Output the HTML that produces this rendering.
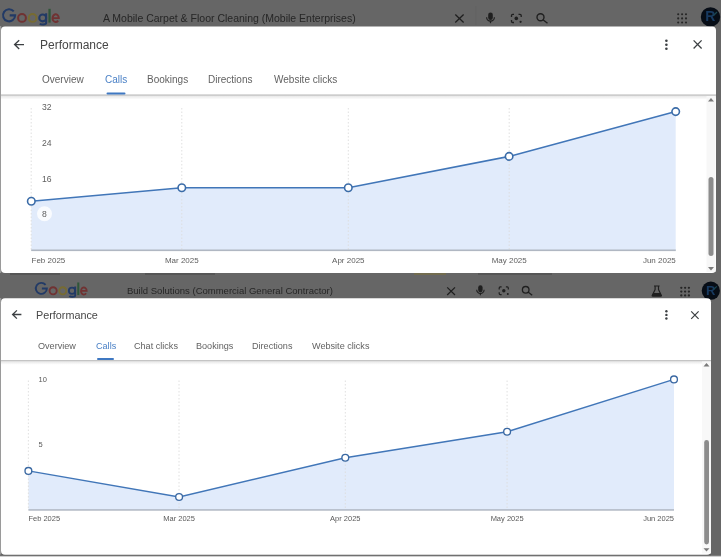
<!DOCTYPE html>
<html><head><meta charset="utf-8">
<style>
html,body{margin:0;padding:0;}
body{width:721px;height:557px;position:relative;overflow:hidden;background:#666666;font-family:"Liberation Sans",sans-serif;}
.abs{position:absolute;}
.t{position:absolute;white-space:nowrap;line-height:1;z-index:2;will-change:transform;}
.dlg{position:absolute;background:#fff;border-radius:4px;overflow:hidden;}
svg{position:absolute;left:0;top:0;overflow:visible;z-index:1;will-change:transform;}
</style></head>
<body>
<!-- ===== Header bar 1 ===== -->
<div class="t" style="left:103px;top:12.8px;font-size:10.5px;color:#262626;">A Mobile Carpet &amp; Floor Cleaning (Mobile Enterprises)</div>

<!-- ===== Dialog 1 ===== -->
<div class="t" style="left:40px;top:39.1px;font-size:12px;color:#474747;">Performance</div>
<div class="t" style="left:42px;top:74.7px;font-size:10px;color:#626262;">Overview</div>
<div class="t" style="left:105px;top:74.7px;font-size:10px;color:#4a80c6;">Calls</div>
<div class="t" style="left:147px;top:74.7px;font-size:10px;color:#626262;">Bookings</div>
<div class="t" style="left:208px;top:74.7px;font-size:10px;color:#626262;">Directions</div>
<div class="t" style="left:274px;top:74.7px;font-size:10px;color:#626262;">Website clicks</div>

<!-- ===== Header bar 2 ===== -->
<div class="t" style="left:127px;top:286px;font-size:9.5px;color:#262626;">Build Solutions (Commercial General Contractor)</div>

<!-- ===== Dialog 2 ===== -->
<div class="t" style="left:36px;top:309.6px;font-size:10.8px;color:#474747;">Performance</div>
<div class="t" style="left:38px;top:341.7px;font-size:9.1px;color:#626262;">Overview</div>
<div class="t" style="left:96px;top:341.7px;font-size:9.1px;color:#4a80c6;">Calls</div>
<div class="t" style="left:134px;top:341.7px;font-size:9.1px;color:#626262;">Chat clicks</div>
<div class="t" style="left:196px;top:341.7px;font-size:9.1px;color:#626262;">Bookings</div>
<div class="t" style="left:252px;top:341.7px;font-size:9.1px;color:#626262;">Directions</div>
<div class="t" style="left:312px;top:341.7px;font-size:9.1px;color:#626262;">Website clicks</div>

<svg width="721" height="557" viewBox="0 0 721 557">
  <!-- logos -->
  <defs>
    <g id="glogo" fill="none" stroke-width="2.05">
      <path d="M13.75,11.4 A6.05,6.05 0 1 0 15.15,15.35 H9.7" stroke="#223a66"/>
      <circle cx="22" cy="17.9" r="3.9" stroke="#703232"/>
      <circle cx="32.6" cy="17.9" r="3.9" stroke="#776b32"/>
      <circle cx="42.7" cy="17.9" r="3.45" stroke="#223a66"/>
      <path d="M46.15,13.3 V23.1 Q46.15,24.5 43,24.5 Q40.7,24.5 39.8,23.6" stroke="#223a66"/>
      <path d="M49.55,8.8 V22.6" stroke="#2f5639" stroke-width="2.25"/>
      <path d="M52.7,18.1 H58.8 A3.15,3.85 0 1 0 58.1,20.6" stroke="#703232" stroke-width="1.95"/>
    </g>
  </defs>
  <use href="#glogo"/>
  <use href="#glogo" transform="matrix(0.913,0,0,0.913,33.04,274.44)"/>
  <!-- header 1 icons -->
  <g stroke="#1f1f1f" stroke-width="1.3" fill="none" stroke-linecap="butt">
    <path d="M455.3,14.5 L463.6,22.5 M463.6,14.5 L455.3,22.5"/>
  </g>
  <rect x="475.5" y="6" width="0.8" height="19" fill="#616161"/>
  <g fill="#1f1f1f">
    <rect x="488.2" y="12.5" width="4.6" height="7.5" rx="2.3"/>
  </g>
  <path d="M486.6,17.2 A3.9,3.9 0 0 0 494.4,17.2" stroke="#1f1f1f" stroke-width="1.2" fill="none"/>
  <rect x="489.9" y="20.8" width="1.2" height="2.4" fill="#1f1f1f"/>
  <g stroke="#1f1f1f" stroke-width="1.3" fill="none">
    <path d="M511.5,17 V15.5 Q511.5,14.3 512.7,14.3 H514 M518.5,14.3 H520 Q521.2,14.3 521.2,15.5 V17 M511.5,20 V21.3 Q511.5,22.5 512.7,22.5 H514"/>
  </g>
  <circle cx="516.3" cy="18.4" r="1.8" fill="#1f1f1f"/>
  <circle cx="520.6" cy="21.8" r="1.1" fill="#1f1f1f"/>
  <g stroke="#1f1f1f" stroke-width="1.4" fill="none">
    <circle cx="540.5" cy="17.3" r="3.5"/>
    <path d="M543,19.8 L547.5,23.2"/>
  </g>
  <g fill="#262626">
    <circle cx="678.2" cy="14.3" r="1.05"/><circle cx="682.1" cy="14.3" r="1.05"/><circle cx="686" cy="14.3" r="1.05"/>
    <circle cx="678.2" cy="18.4" r="1.05"/><circle cx="682.1" cy="18.4" r="1.05"/><circle cx="686" cy="18.4" r="1.05"/>
    <circle cx="678.2" cy="22.5" r="1.05"/><circle cx="682.1" cy="22.5" r="1.05"/><circle cx="686" cy="22.5" r="1.05"/>
  </g>
  <circle cx="710.5" cy="16.9" r="9.7" fill="#070d16"/>
  <text x="705.3" y="21.3" font-family="Liberation Sans" font-size="14" font-weight="bold" fill="#183a60">R</text>
  <path d="M713.5,15.5 L717,12" stroke="#1a4650" stroke-width="1.2"/>

  <!-- dialog 1 -->
  <rect x="0" y="26" width="1.2" height="247" fill="#9a9a9a"/>
  <rect x="1" y="26.4" width="715" height="246.5" rx="4" fill="#fff"/>
  <!-- dialog 1 icons -->
  <path d="M24,44.6 H15.3 M19.2,40.2 L14.6,44.6 L19.2,49" stroke="#3c4043" stroke-width="1.35" fill="none"/>
  <g fill="#3c4043">
    <circle cx="666.4" cy="40.8" r="1.3"/><circle cx="666.4" cy="44.8" r="1.3"/><circle cx="666.4" cy="48.8" r="1.3"/>
  </g>
  <path d="M693.6,40.4 L701.6,48.5 M701.6,40.4 L693.6,48.5" stroke="#3c4043" stroke-width="1.3" fill="none"/>

  <!-- fragments under dialog 1 -->
  <g fill="#3a3a3a" opacity="0.35">
    <rect x="10" y="273" width="50" height="2"/>
    <rect x="145" y="273" width="70" height="2"/>
    <rect x="478" y="273" width="74" height="2"/>
  </g>
  <rect x="414" y="273" width="32" height="2" fill="#7a7040" opacity="0.6"/>
  <!-- header 2 icons -->
  <path d="M447.2,287.4 L455,295 M455,287.4 L447.2,295" stroke="#1f1f1f" stroke-width="1.25" fill="none"/>
  <rect x="478.2" y="285.3" width="4.4" height="7" rx="2.2" fill="#1f1f1f"/>
  <path d="M476.7,289.7 A3.7,3.7 0 0 0 484.1,289.7" stroke="#1f1f1f" stroke-width="1.1" fill="none"/>
  <rect x="479.8" y="293.1" width="1.1" height="2.2" fill="#1f1f1f"/>
  <g stroke="#1f1f1f" stroke-width="1.2" fill="none">
    <path d="M499.2,289.4 V288 Q499.2,286.9 500.3,286.9 H501.6 M505.9,286.9 H507.2 Q508.3,286.9 508.3,288 V289.4 M499.2,292.2 V293.5 Q499.2,294.6 500.3,294.6 H501.6"/>
  </g>
  <circle cx="503.8" cy="290.8" r="1.7" fill="#1f1f1f"/>
  <circle cx="507.8" cy="294" r="1" fill="#1f1f1f"/>
  <g stroke="#1f1f1f" stroke-width="1.3" fill="none">
    <circle cx="525.7" cy="289.8" r="3.3"/>
    <path d="M528,292.1 L532.2,295.3"/>
  </g>
  <path d="M654,286 H659.6 M655.1,286 V289.6 L652.2,295.4 Q651.9,296.1 652.7,296.1 H660.9 Q661.7,296.1 661.4,295.4 L658.5,289.6 V286" stroke="#1f1f1f" stroke-width="1.15" fill="none"/>
  <path d="M653.3,293 H660.3 L661.5,296.1 H652.1 Z" fill="#1f1f1f"/>
  <g fill="#262626">
    <circle cx="681.3" cy="287.8" r="1.15"/><circle cx="685.1" cy="287.8" r="1.15"/><circle cx="688.9" cy="287.8" r="1.15"/>
    <circle cx="681.3" cy="291.6" r="1.15"/><circle cx="685.1" cy="291.6" r="1.15"/><circle cx="688.9" cy="291.6" r="1.15"/>
    <circle cx="681.3" cy="295.4" r="1.15"/><circle cx="685.1" cy="295.4" r="1.15"/><circle cx="688.9" cy="295.4" r="1.15"/>
  </g>
  <circle cx="710.8" cy="290.7" r="9.1" fill="#070d16"/>
  <text x="706" y="295" font-family="Liberation Sans" font-size="13" font-weight="bold" fill="#183a60">R</text>
  <path d="M713.6,289.5 L716.8,286.3" stroke="#1a4650" stroke-width="1.1"/>

  <!-- dialog 2 -->
  <rect x="0" y="298" width="1.2" height="257" fill="#9a9a9a"/>
  <rect x="0" y="554.6" width="711" height="1.2" fill="#555"/>
  <rect x="0" y="555.8" width="721" height="1.2" fill="#cfcfcf"/>
  <rect x="1" y="298.2" width="710" height="256.6" rx="4" fill="#fff"/>
  <!-- dialog 2 icons -->
  <path d="M21.4,314.5 H13.2 M16.9,310.4 L12.6,314.5 L16.9,318.6" stroke="#3c4043" stroke-width="1.3" fill="none"/>
  <g fill="#3c4043">
    <circle cx="666.4" cy="311.3" r="1.2"/><circle cx="666.4" cy="314.9" r="1.2"/><circle cx="666.4" cy="318.5" r="1.2"/>
  </g>
  <path d="M691.2,311.3 L698.6,318.8 M698.6,311.3 L691.2,318.8" stroke="#3c4043" stroke-width="1.2" fill="none"/>

  <!-- dialog 1 tab divider -->
  <defs><linearGradient id="sh" x1="0" y1="0" x2="0" y2="1"><stop offset="0" stop-color="#000" stop-opacity="0.10"/><stop offset="1" stop-color="#000" stop-opacity="0"/></linearGradient></defs>
  <rect x="1" y="95.6" width="715" height="4" fill="url(#sh)"/>
  <rect x="1" y="94.4" width="715" height="1.4" fill="#c4c4c4"/>
  <rect x="106.5" y="92.6" width="19" height="2" rx="1" fill="#3f78c2"/>
  <!-- chart 1 -->
  <path d="M31.3,201.2 L181.8,187.8 L348.3,187.8 L509.1,156.4 L675.7,111.6 L675.7,250.5 L31.3,250.5 Z" fill="#e1ebfb"/>
  <g stroke="#dcdcdc" stroke-width="0.9" stroke-dasharray="1.5,2">
    <line x1="31.2" y1="108" x2="31.2" y2="250"/>
    <line x1="181.8" y1="108" x2="181.8" y2="250"/>
    <line x1="348.3" y1="108" x2="348.3" y2="250"/>
    <line x1="509.2" y1="108" x2="509.2" y2="250"/>
  </g>
  <rect x="31.2" y="249.5" width="644.6" height="1.6" fill="#b0b7c2"/>
  <polyline points="31.3,201.2 181.8,187.8 348.3,187.8 509.1,156.4 675.7,111.6" fill="none" stroke="#4176b8" stroke-width="1.6"/>
  <g fill="#fff" stroke="#3b6ca8" stroke-width="1.6">
    <circle cx="31.3" cy="201.2" r="3.75"/>
    <circle cx="181.8" cy="187.8" r="3.75"/>
    <circle cx="348.3" cy="187.8" r="3.75"/>
    <circle cx="509.1" cy="156.4" r="3.75"/>
    <circle cx="675.7" cy="111.6" r="3.75"/>
  </g>
  <circle cx="44.5" cy="213.8" r="7.5" fill="#fff" opacity="0.8"/>
  <g font-family="Liberation Sans" font-size="8.6" fill="#606060">
    <text x="42" y="110.1">32</text>
    <text x="42" y="146">24</text>
    <text x="42" y="181.8">16</text>
    <text x="42" y="217.2">8</text>
  </g>
  <g font-family="Liberation Sans" font-size="8" fill="#606060">
    <text x="31.5" y="262.5">Feb 2025</text>
    <text x="181.8" y="262.5" text-anchor="middle">Mar 2025</text>
    <text x="348.3" y="262.5" text-anchor="middle">Apr 2025</text>
    <text x="509.2" y="262.5" text-anchor="middle">May 2025</text>
    <text x="675.8" y="262.5" text-anchor="end">Jun 2025</text>
  </g>
  <!-- scrollbar 1 -->
  <rect x="706.5" y="96" width="9" height="176" fill="#f7f7f7"/>
  <rect x="708.5" y="177" width="5" height="79" rx="2.5" fill="#8c8c8c"/>
  <path d="M708,101.5 L714,101.5 L711,98 Z" fill="#7a7a7a"/>
  <path d="M708,267 L714,267 L711,270.5 Z" fill="#7a7a7a"/>

  <!-- dialog 2 tab divider -->
  <rect x="1" y="361.3" width="710" height="3.5" fill="url(#sh)"/>
  <rect x="1" y="360" width="710" height="1.3" fill="#c4c4c4"/>
  <rect x="97" y="358" width="17" height="2" rx="1" fill="#3f78c2"/>
  <!-- chart 2 -->
  <path d="M28.4,470.9 L179.1,497 L345.3,457.8 L507.1,431.7 L674,379.4 L674,510 L28.4,510 Z" fill="#e1ebfb"/>
  <g stroke="#dcdcdc" stroke-width="0.9" stroke-dasharray="1.5,2">
    <line x1="28.4" y1="380.5" x2="28.4" y2="509.7"/>
    <line x1="179" y1="380.5" x2="179" y2="509.7"/>
    <line x1="345.3" y1="380.5" x2="345.3" y2="509.7"/>
    <line x1="507.1" y1="380.5" x2="507.1" y2="509.7"/>
  </g>
  <rect x="28.4" y="509.2" width="645.6" height="1.5" fill="#b0b7c2"/>
  <polyline points="28.4,470.9 179.1,497 345.3,457.8 507.1,431.7 674,379.4" fill="none" stroke="#4176b8" stroke-width="1.4"/>
  <g fill="#fff" stroke="#3a68a2" stroke-width="1.35">
    <circle cx="28.4" cy="470.9" r="3.4"/>
    <circle cx="179.1" cy="497" r="3.4"/>
    <circle cx="345.3" cy="457.8" r="3.4"/>
    <circle cx="507.1" cy="431.7" r="3.4"/>
    <circle cx="674" cy="379.4" r="3.4"/>
  </g>
  <g font-family="Liberation Sans" font-size="7.5" fill="#5a5a5a">
    <text x="38.5" y="381.9">10</text>
    <text x="38.5" y="447">5</text>
    <text x="28.4" y="521.3">Feb 2025</text>
    <text x="179.1" y="521.3" text-anchor="middle">Mar 2025</text>
    <text x="345.3" y="521.3" text-anchor="middle">Apr 2025</text>
    <text x="507.1" y="521.3" text-anchor="middle">May 2025</text>
    <text x="674" y="521.3" text-anchor="end">Jun 2025</text>
  </g>
  <!-- scrollbar 2 -->
  <rect x="702" y="361.5" width="9" height="192" fill="#f8f8f8"/>
  <rect x="704.2" y="440" width="4.8" height="104.5" rx="2.4" fill="#8c8c8c"/>
  <path d="M703.5,366.5 L709.5,366.5 L706.5,363 Z" fill="#7a7a7a"/>
  <path d="M703.5,548.3 L709.5,548.3 L706.5,551.6 Z" fill="#7a7a7a"/>
</svg>
</body></html>
